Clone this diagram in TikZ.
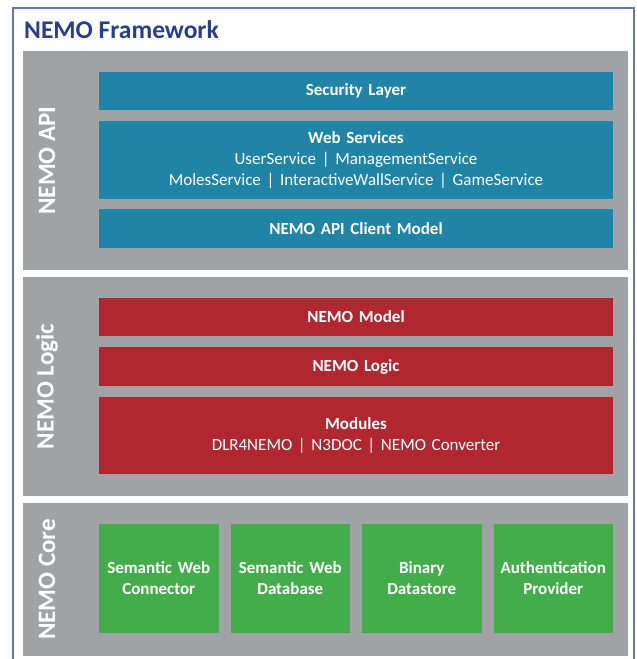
\documentclass[tikz,border=0pt]{standalone}
\usepackage{fontspec}
\setmainfont{Carlito}
\usetikzlibrary{positioning}
\definecolor{apiblue}{HTML}{1F84A6}
\definecolor{logicred}{HTML}{B0272F}
\definecolor{coregreen}{HTML}{44AD4B}
\definecolor{panelgray}{HTML}{A1A2A6}
\definecolor{titleblue}{HTML}{2A3E8E}
\definecolor{framecol}{HTML}{6378AE}

\begin{document}
\begin{tikzpicture}[x=1pt, y=1pt,
    api/.style = {fill=apiblue, text=white, minimum width=514pt, text width=500pt, align=center, inner sep=0pt, outer sep=0pt, font=\fontsize{17}{21}\selectfont},
    logic/.style = {fill=logicred, text=white, minimum width=514pt, text width=500pt, align=center, inner sep=0pt, outer sep=0pt, font=\fontsize{17}{21}\selectfont},
    core/.style = {fill=coregreen, text=white, minimum width=119.5pt, minimum height=109pt, text width=114pt, align=center, inner sep=0pt, outer sep=0pt, font=\bfseries\fontsize{17}{21}\selectfont},
    layername/.style = {rotate=90, text=white, inner sep=0pt, font=\bfseries\fontsize{25}{25}\selectfont}]
        \useasboundingbox (0,0) rectangle (637,-659);
        \draw[framecol, line width=1.2pt] (13,-659) |- (634,-8) -- (634,-659); % Rahmen
        \node[anchor=base west, text=titleblue, inner sep=0pt, font=\bfseries\fontsize{25.5}{25.5}\selectfont] (title) at (24,-38) {NEMO Framework};
        \fill[panelgray] (23,-51) rectangle (628,-270); % API
        \fill[panelgray] (23,-277) rectangle (628,-496); % Logic
        \fill[panelgray] (23,-503) rectangle (628,-656); % Core
        \node[layername] (lapi) at (47,-160.5) {NEMO API};
        \node[layername] (llogic) at (47,-386.5) {NEMO Logic};
        \node[layername] (lcore) at (47,-579.5) {NEMO Core};
        \node[api, minimum height=38pt, anchor=north west] (sec) at (99,-72) {\textbf{Security Layer}};
        \node[api, minimum height=78pt, below=11pt of sec] (ws) {\textbf{Web Services}\\UserService | ManagementService\\MolesService | InteractiveWallService | GameService};
        \node[api, minimum height=39pt, below=10pt of ws] (client) {\textbf{NEMO API Client Model}};
        \node[logic, minimum height=38pt, anchor=north west] (model) at (99,-298) {\textbf{NEMO Model}};
        \node[logic, minimum height=39pt, below=11pt of model] (nlogic) {\textbf{NEMO Logic}};
        \node[logic, minimum height=77pt, below=11pt of nlogic] (modules) {\textbf{Modules}\\DLR4NEMO | N3DOC | NEMO Converter};
        \node[core, anchor=north west] (swc) at (99,-524) {Semantic Web\\Connector};
        \node[core, right=12pt of swc] (swd) {Semantic Web\\Database};
        \node[core, right=12pt of swd] (bds) {Binary\\Datastore};
        \node[core, right=12pt of bds] (auth) {Authentication\\Provider};
    \end{tikzpicture}
\end{document}
